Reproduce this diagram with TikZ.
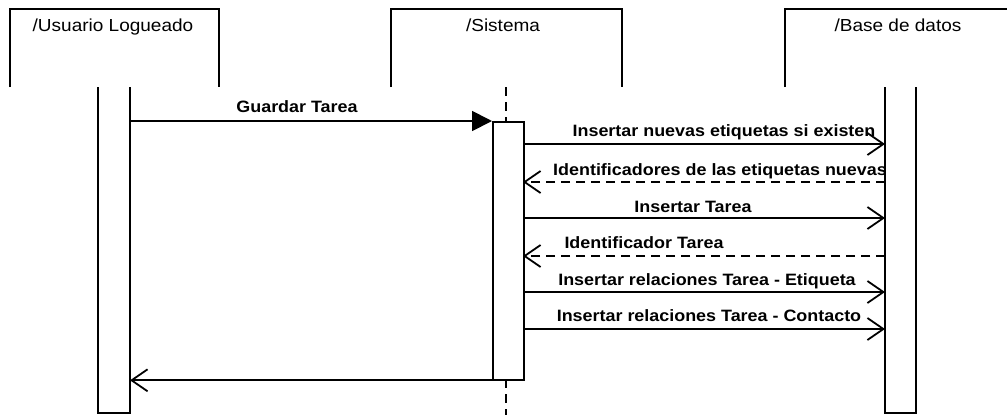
\documentclass[tikz,border=0pt]{standalone}
\usepackage{fontspec}
\setmainfont{Liberation Sans}[FakeStretch=1.09]
\usetikzlibrary{arrows.meta}
\begin{document}
\begin{tikzpicture}[x=1bp,y=-1bp,
  line/.style={line width=1.8bp},
  hdrtxt/.style={font=\fontsize{17.5}{20}\selectfont, inner sep=0, anchor=base},
  msgtxt/.style={font=\bfseries\fontsize{16.5}{19}\selectfont, inner sep=0, anchor=base},
  dashpat/.style={dash pattern=on 9bp off 6bp},
  syncmsg/.style={line, -{Triangle[length=20bp,width=20bp]}},
  asyncmsg/.style={line, -{Straight Barb[length=16bp,width=22bp]}},
  replymsg/.style={asyncmsg, dashpat},
  ]
\useasboundingbox (0,0) rectangle (1007,415);
\fill[white] (0,0) rectangle (1007,415);

% header boxes (open at the bottom)
\draw[line] (10,87) -- (10,9) -- (219,9) -- (219,87);
\draw[line] (391,87) -- (391,9) -- (622,9) -- (622,87);
\draw[line] (785,87) -- (785,9) -- (1010,9);
\node[hdrtxt] (hu) at (113,31) {/Usuario Logueado};
\node[hdrtxt] (hs) at (503,31) {/Sistema};
\node[hdrtxt] (hb) at (898,31) {/Base de datos};

% lifelines
\draw[line] (98,87) -- (98,413) -- (130,413) -- (130,87);
\draw[line] (885,87) -- (885,413) -- (916,413) -- (916,87);
\draw[line, dashpat] (506,87) -- (506,121);
\draw[line, dashpat] (506,379) -- (506,415);
\node[draw, line width=1.8bp, fill=white, minimum width=31bp, minimum height=257.5bp, inner sep=0, anchor=north west] (act) at (492,121) {};

% message end points
\coordinate (u1) at (130,121);
\coordinate (s1) at (492,121);
\coordinate (s2) at (523,144);  \coordinate (b2) at (885,144);
\coordinate (s3) at (523,182);  \coordinate (b3) at (885,182);
\coordinate (s4) at (523,218);  \coordinate (b4) at (885,218);
\coordinate (s5) at (523,256);  \coordinate (b5) at (885,256);
\coordinate (s6) at (523,292);  \coordinate (b6) at (885,292);
\coordinate (s7) at (523,329);  \coordinate (b7) at (885,329);
\coordinate (s8) at (act.south east);  \coordinate (u8) at (act.south east -| u1);

% messages
\draw[syncmsg] (u1) -- (s1);
\draw[asyncmsg] (s2) -- (b2);
\draw[replymsg] (b3) -- (s3);
\draw[asyncmsg] (s4) -- (b4);
\draw[replymsg] (b5) -- (s5);
\draw[asyncmsg] (s6) -- (b6);
\draw[asyncmsg] (s7) -- (b7);
\draw[asyncmsg] (s8) -- (u8);

% labels
\node[msgtxt] (l1) at (297,112) {Guardar Tarea};
\node[msgtxt] (l2) at (724,136) {Insertar nuevas etiquetas si existen};
\node[msgtxt] (l3) at (720,175) {Identificadores de las etiquetas nuevas};
\node[msgtxt] (l4) at (693,212) {Insertar Tarea};
\node[msgtxt] (l5) at (644,248) {Identificador Tarea};
\node[msgtxt] (l6) at (707,285) {Insertar relaciones Tarea - Etiqueta};
\node[msgtxt] (l7) at (709,321) {Insertar relaciones Tarea - Contacto};
\end{tikzpicture}
\end{document}
